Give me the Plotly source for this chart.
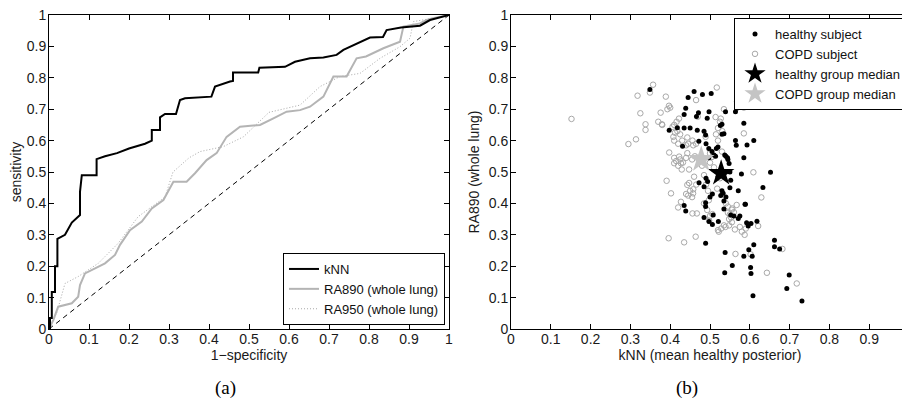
import plotly.graph_objects as go

# ---------------- ROC data (panel a) ----------------
knn_fpr = [0, 0.0025, 0.0025, 0.007, 0.007, 0.015, 0.015, 0.021, 0.021, 0.04, 0.057, 0.0775, 0.0775, 0.08,
           0.082, 0.119, 0.119, 0.14, 0.17, 0.2, 0.24, 0.257, 0.257, 0.2775, 0.2775, 0.29, 0.3175, 0.3275,
           0.34, 0.406, 0.415, 0.4525, 0.46, 0.46, 0.523, 0.526, 0.59, 0.615, 0.6525, 0.686, 0.719, 0.736,
           0.7775, 0.8025, 0.835, 0.844, 0.88, 0.9275, 0.9525, 0.994, 1]
knn_tpr = [0, 0, 0.035, 0.035, 0.118, 0.118, 0.2, 0.2, 0.287, 0.30, 0.339, 0.363, 0.437, 0.48,
           0.49, 0.49, 0.541, 0.55, 0.56, 0.575, 0.59, 0.60, 0.634, 0.634, 0.674, 0.685, 0.685, 0.729,
           0.735, 0.74, 0.772, 0.788, 0.79, 0.817, 0.817, 0.832, 0.835, 0.851, 0.862, 0.865, 0.873, 0.889,
           0.915, 0.928, 0.93, 0.952, 0.96, 0.966, 0.984, 0.997, 1]

ra890_fpr = [0, 0.011, 0.023, 0.057, 0.073, 0.0775, 0.09, 0.115, 0.14, 0.165, 0.1775, 0.2025, 0.232,
             0.257, 0.286, 0.311, 0.344, 0.365, 0.394, 0.419, 0.444, 0.4775, 0.5275, 0.561, 0.594, 0.6275,
             0.6525, 0.686, 0.711, 0.744, 0.769, 0.7925, 0.836, 0.8775, 0.886, 0.9275, 0.944, 0.96, 1]
ra890_tpr = [0, 0.029, 0.071, 0.082, 0.103, 0.14, 0.177, 0.193, 0.209, 0.236, 0.268, 0.315, 0.342,
             0.384, 0.411, 0.469, 0.469, 0.496, 0.538, 0.56, 0.612, 0.644, 0.65, 0.671, 0.692, 0.697,
             0.708, 0.74, 0.804, 0.804, 0.862, 0.868, 0.894, 0.915, 0.963, 0.973, 0.984, 0.99, 1]

ra950_fpr = [0, 0.019, 0.04, 0.073, 0.123, 0.173, 0.223, 0.29, 0.31, 0.35, 0.3775, 0.436, 0.486, 0.55,
             0.6275, 0.6775, 0.7275, 0.7775, 0.8275, 0.8775, 0.9025, 0.911, 0.96, 1]
ra950_tpr = [0, 0.05, 0.145, 0.167, 0.209, 0.273, 0.358, 0.42, 0.50, 0.545, 0.565, 0.581, 0.612, 0.69,
             0.713, 0.772, 0.804, 0.814, 0.862, 0.899, 0.926, 0.979, 0.99, 1]

chance_x = [0, 1]
chance_y = [0, 1]

# ---------------- Scatter data (panel b) ----------------
healthy_knn = [0.349, 0.445, 0.460, 0.481, 0.503, 0.439, 0.435, 0.466, 0.471, 0.4975, 0.493,
               0.3975, 0.418, 0.435, 0.450, 0.468, 0.485, 0.489, 0.431, 0.472, 0.490, 0.497, 0.505, 0.497,
               0.539, 0.564, 0.567, 0.585, 0.530, 0.526, 0.535, 0.530, 0.564, 0.566, 0.610, 0.593, 0.520,
               0.516, 0.540, 0.544, 0.585, 0.510, 0.537, 0.545, 0.548, 0.550, 0.552, 0.550, 0.514, 0.520,
               0.652, 0.579, 0.633, 0.571, 0.589, 0.535, 0.535, 0.530, 0.527, 0.533, 0.540,
               0.4725, 0.485, 0.490, 0.494, 0.506, 0.500, 0.435, 0.439, 0.489, 0.489, 0.485, 0.4975,
               0.506, 0.508, 0.521, 0.552, 0.560, 0.575, 0.571, 0.588, 0.618, 0.603, 0.596, 0.592,
               0.489, 0.538, 0.537, 0.556, 0.585, 0.5975, 0.610, 0.606, 0.602, 0.603, 0.608,
               0.662, 0.662, 0.675, 0.699, 0.693, 0.731]
healthy_ra890 = [0.763, 0.737, 0.756, 0.747, 0.750, 0.703, 0.683, 0.677, 0.689, 0.692, 0.671,
                 0.633, 0.641, 0.640, 0.640, 0.633, 0.630, 0.618, 0.582, 0.598, 0.590, 0.575, 0.565, 0.545,
                 0.692, 0.692, 0.703, 0.655, 0.652, 0.648, 0.622, 0.620, 0.600, 0.585, 0.600, 0.586, 0.580,
                 0.575, 0.550, 0.545, 0.545, 0.554, 0.554, 0.540, 0.527, 0.500, 0.474, 0.450, 0.550, 0.485,
                 0.499, 0.494, 0.451, 0.440, 0.397, 0.382, 0.408, 0.440, 0.425, 0.432, 0.420,
                 0.466, 0.453, 0.480, 0.470, 0.430, 0.420, 0.393, 0.376, 0.402, 0.390, 0.355, 0.342,
                 0.333, 0.363, 0.342, 0.363, 0.360, 0.360, 0.352, 0.397, 0.343, 0.336, 0.328, 0.338,
                 0.273, 0.244, 0.179, 0.202, 0.232, 0.252, 0.268, 0.232, 0.196, 0.177, 0.106,
                 0.283, 0.262, 0.255, 0.172, 0.129, 0.089]

copd_knn = [0.152, 0.295, 0.314, 0.318, 0.325, 0.338, 0.338, 0.349, 0.357, 0.376, 0.379, 0.389, 0.393,
            0.397, 0.400, 0.3975, 0.391, 0.402, 0.406, 0.408, 0.412, 0.416, 0.422, 0.4225, 0.427, 0.429,
            0.4475, 0.440, 0.443, 0.456, 0.443, 0.4475, 0.465, 0.4575, 0.4655, 0.469, 0.489, 0.500, 0.505,
            0.517, 0.514, 0.527, 0.535, 0.531, 0.568, 0.585, 0.585, 0.609, 0.629,
            0.396, 0.435, 0.464, 0.420, 0.456, 0.467, 0.427, 0.493, 0.506, 0.520, 0.528, 0.522, 0.539,
            0.5625, 0.580, 0.587, 0.564, 0.602, 0.643, 0.718, 0.682, 0.621, 0.550, 0.553, 0.548, 0.560,
            0.567, 0.556, 0.498, 0.500, 0.443, 0.460, 0.410, 0.420, 0.415, 0.425, 0.432, 0.410, 0.440,
            0.455, 0.462, 0.470, 0.480, 0.485, 0.490, 0.495, 0.497, 0.485, 0.440, 0.445, 0.455, 0.450,
            0.458, 0.410, 0.418, 0.425, 0.410, 0.420, 0.430, 0.445, 0.458, 0.465, 0.515, 0.520, 0.525,
            0.520, 0.530, 0.540, 0.545, 0.555, 0.545, 0.555, 0.535, 0.548, 0.575, 0.590, 0.518, 0.525,
            0.530, 0.510, 0.500, 0.370, 0.380]
copd_ra890 = [0.669, 0.589, 0.604, 0.743, 0.687, 0.652, 0.634, 0.753, 0.778, 0.689, 0.652, 0.740, 0.700,
              0.711, 0.705, 0.562, 0.472, 0.432, 0.644, 0.612, 0.625, 0.660, 0.670, 0.549, 0.528, 0.508,
              0.508, 0.585, 0.610, 0.600, 0.560, 0.465, 0.729, 0.432, 0.460, 0.676, 0.612, 0.560, 0.548,
              0.769, 0.675, 0.670, 0.700, 0.630, 0.724, 0.705, 0.623, 0.499, 0.419,
              0.289, 0.276, 0.294, 0.387, 0.368, 0.368, 0.405, 0.379, 0.366, 0.315, 0.320, 0.310, 0.325,
              0.317, 0.310, 0.300, 0.239, 0.238, 0.179, 0.145, 0.255, 0.328, 0.365, 0.355, 0.350, 0.372,
              0.395, 0.384, 0.345, 0.360, 0.459, 0.485, 0.528, 0.520, 0.535, 0.540, 0.530, 0.545, 0.545,
              0.540, 0.550, 0.545, 0.520, 0.490, 0.460, 0.440, 0.410, 0.400, 0.430, 0.425, 0.420, 0.440,
              0.445, 0.650, 0.630, 0.620, 0.600, 0.590, 0.600, 0.590, 0.585, 0.590, 0.620, 0.640, 0.660,
              0.600, 0.565, 0.400, 0.390, 0.380, 0.370, 0.340, 0.330, 0.330, 0.325, 0.320, 0.447, 0.480,
              0.500, 0.515, 0.530, 0.660, 0.650]

healthy_median_knn = [0.528]
healthy_median_ra890 = [0.496]
copd_median_knn = [0.478]
copd_median_ra890 = [0.540]

tick_vals = [0, 0.1, 0.2, 0.3, 0.4, 0.5, 0.6, 0.7, 0.8, 0.9, 1]
tick_text = ["0", "0.1", "0.2", "0.3", "0.4", "0.5", "0.6", "0.7", "0.8", "0.9", "1"]

FONT = "Liberation Sans"
SERIF = "Liberation Serif"
# the page body keeps an 8px default margin, so the figure is drawn 8px smaller
W, H = 902, 395
ML, MR, MT, MB = 41, 1, 7, 74
PW = W - ML - MR   # 860
PH = H - MT - MB   # 314


def px_x(p):   # reference-screen pixel -> paper fraction
    return (p - 49) / PW


def px_y(p):
    return (329 - p) / PH


fig = go.Figure()

# Panel (a)
fig.add_trace(go.Scatter(x=chance_x, y=chance_y, mode="lines", showlegend=False,
                         line=dict(color="black", width=1, dash="5px,4px"), xaxis="x", yaxis="y"))
fig.add_trace(go.Scatter(x=ra950_fpr, y=ra950_tpr, mode="lines", name="RA950 (whole lung)",
                         line=dict(color="#a8a8a8", width=1, dash="1px,2px"), xaxis="x", yaxis="y",
                         legend="legend", legendrank=3))
fig.add_trace(go.Scatter(x=ra890_fpr, y=ra890_tpr, mode="lines", name="RA890 (whole lung)",
                         line=dict(color="#b4b4b4", width=2), xaxis="x", yaxis="y",
                         legend="legend", legendrank=2))
fig.add_trace(go.Scatter(x=knn_fpr, y=knn_tpr, mode="lines", name="kNN",
                         line=dict(color="black", width=2), xaxis="x", yaxis="y",
                         legend="legend", legendrank=1))

# Panel (b)
fig.add_trace(go.Scatter(x=copd_knn, y=copd_ra890, mode="markers", name="COPD subject",
                         marker=dict(symbol="circle-open", size=5.5, color="#a8a8a8", line=dict(width=1)),
                         xaxis="x2", yaxis="y2", legend="legend2", legendrank=2))
fig.add_trace(go.Scatter(x=healthy_knn, y=healthy_ra890, mode="markers", name="healthy subject",
                         marker=dict(symbol="circle", size=5, color="black"),
                         xaxis="x2", yaxis="y2", legend="legend2", legendrank=1))
fig.add_trace(go.Scatter(x=healthy_median_knn, y=healthy_median_ra890, mode="markers",
                         name="healthy group median",
                         marker=dict(symbol="star", size=20, color="black"),
                         xaxis="x2", yaxis="y2", legend="legend2", legendrank=3))
fig.add_trace(go.Scatter(x=copd_median_knn, y=copd_median_ra890, mode="markers",
                         name="COPD group median",
                         marker=dict(symbol="star", size=20, color="#c4c4c4"),
                         xaxis="x2", yaxis="y2", legend="legend2", legendrank=4))

axis_common = dict(range=[0, 1], tickvals=tick_vals, ticktext=tick_text, ticks="inside", ticklen=5,
                   tickcolor="black", showline=True, linecolor="black", linewidth=1, mirror="ticks",
                   showgrid=False, zeroline=False, automargin=False, ticklabeloverflow="allow",
                   tickfont=dict(family=FONT, size=14, color="#1a1a1a"), fixedrange=True)

title_font = dict(family=FONT, size=14, color="#1a1a1a")
legend_font = dict(family=FONT, size=13, color="#111")

fig.update_layout(
    template="none",
    width=W, height=H, margin=dict(l=ML, r=MR, t=MT, b=MB, pad=0),
    paper_bgcolor="white", plot_bgcolor="white",
    font=dict(family=FONT, size=14, color="#1a1a1a"),
    xaxis=dict(domain=[0, 400 / PW], anchor="y", ticklabelstandoff=-3,
               title=dict(text="1−specificity", standoff=0, font=title_font), **axis_common),
    yaxis=dict(domain=[0, 1], anchor="x", ticklabelstandoff=-1,
               title=dict(text="sensitivity", standoff=10, font=title_font), **axis_common),
    xaxis2=dict(domain=[462 / PW, 1], anchor="y2", ticklabelstandoff=-3,
                title=dict(text="kNN (mean healthy posterior)", standoff=0, font=title_font),
                **axis_common),
    yaxis2=dict(domain=[0, 1], anchor="x2", ticklabelstandoff=-1,
                title=dict(text="RA890 (whole lung)", standoff=5, font=title_font), **axis_common),
    legend=dict(x=px_x(445), y=px_y(325), xanchor="right", yanchor="bottom",
                bordercolor="black", borderwidth=1, bgcolor="white",
                font=legend_font, tracegroupgap=0, itemwidth=30),
    legend2=dict(x=px_x(907), y=px_y(18), xanchor="right", yanchor="top",
                 bordercolor="black", borderwidth=1, bgcolor="white",
                 font=legend_font, tracegroupgap=0, itemwidth=30),
    annotations=[
        dict(text="(a)", x=px_x(225), y=px_y(388), xref="paper", yref="paper",
             xanchor="center", yanchor="middle",
             showarrow=False, font=dict(family=SERIF, size=19, color="black")),
        dict(text="(b)", x=px_x(687), y=px_y(388), xref="paper", yref="paper",
             xanchor="center", yanchor="middle",
             showarrow=False, font=dict(family=SERIF, size=19, color="black")),
    ],
)

fig.write_html("out.html")
